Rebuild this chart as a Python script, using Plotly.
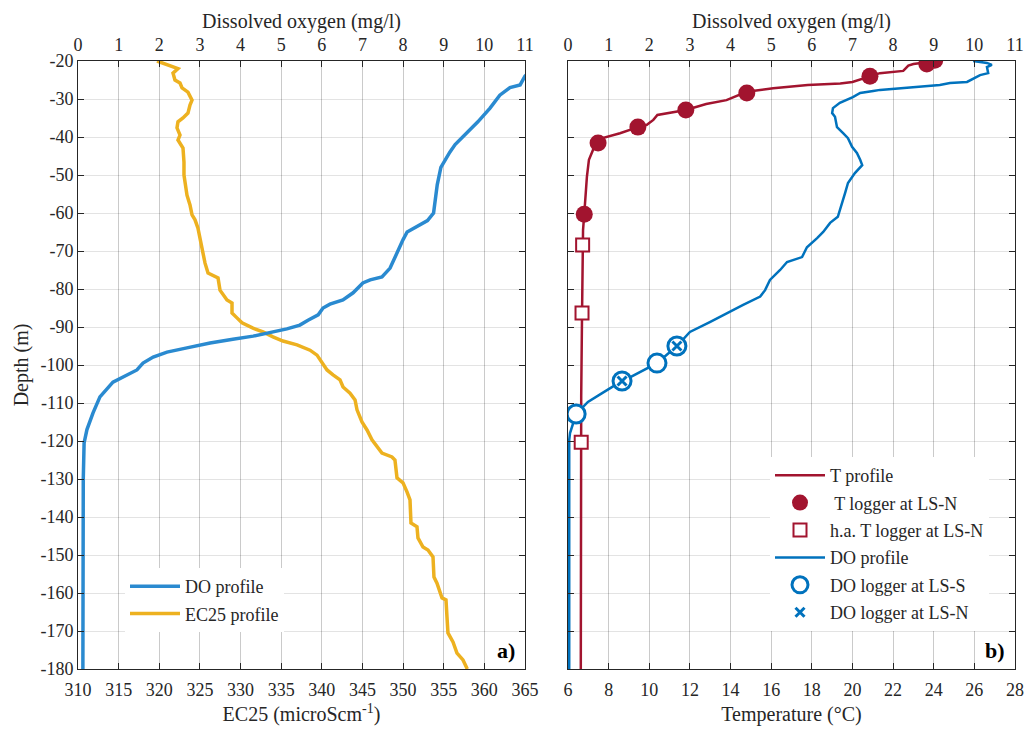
import plotly.graph_objects as go

# ---------------- Panel a) data ----------------
depth_do_a = [-22, -24, -26.3, -27, -29, -32.4, -36, -39.5, -42, -44, -48, -52.6, -56.6, -60, -62, -63.5,
              -65, -67, -69, -73, -74.5, -76.8, -77.6, -78.4, -81, -82.9, -84, -85, -86.8, -88.2,
              -89.5, -90.5, -91.3, -92.4, -93.2, -94.2, -95.5, -96.6, -97.9, -99.5, -101.3, -102.6,
              -104.5, -108.4, -112.6, -117, -120.5, -130, -150, -180]
do_a = [11.2, 11.0, 10.88, 10.63, 10.38, 10.14, 9.84, 9.52, 9.28, 9.15, 8.93, 8.84, 8.79, 8.75, 8.6, 8.35,
        8.1, 8.0, 7.92, 7.75, 7.68, 7.48, 7.19, 7.01, 6.77, 6.52, 6.2, 6.03, 5.91, 5.66,
        5.46, 5.14, 4.8, 4.31, 3.81, 3.25, 2.68, 2.19, 1.85, 1.6, 1.45, 1.2,
        0.86, 0.54, 0.37, 0.22, 0.15, 0.13, 0.12, 0.12]

depth_ec = [-20, -20.5, -21.6, -22, -23.2, -25, -25.8, -27.1, -28.2, -30.3, -31.6, -33.7, -35, -36,
            -37.6, -39.5, -40.8, -42.9, -46.6, -50, -55.3, -57.9, -60.5, -61.8, -64, -67.5,
            -70.5, -73.2, -75.8, -76.3, -77.1, -80.3, -82.9, -83.7, -86.3, -87.6, -88.9, -90.3,
            -91.3, -92.6, -93.7, -94.7, -96.1, -97.4, -99.5, -101.3, -102.6, -103.9, -105.8,
            -107.4, -109.2, -111.8, -115, -117.1, -119.7, -121.6, -123.2, -124.2, -125, -129.7,
            -131, -133.4, -135.5, -141.6, -142.6, -145.5, -147.9, -148.7, -150.5, -155.8, -157.4,
            -161.3, -161.8, -166.3, -170.5, -172.9, -175.8, -177.6, -180]
ec25 = [319.72, 320.34, 321.69, 322.30, 321.69, 321.93, 322.55, 322.80, 323.53, 324.03, 323.78, 323.53,
        322.92, 322.30, 322.18, 322.55, 322.30, 322.92, 323.04, 323.04, 323.41, 323.78, 324.03, 324.40,
        324.76, 325.05, 325.38, 325.63, 326.0, 326.49, 327.23, 327.47, 328.33, 328.95, 328.95, 329.56,
        330.18, 331.53, 332.76, 333.99, 335.22, 336.95, 338.55, 339.41, 340.14, 340.64, 341.38, 342.24,
        342.61, 343.47, 344.09, 344.33, 344.94, 345.56, 346.17, 346.79, 347.40, 348.63, 349.00, 349.25,
        349.99, 350.48, 350.85, 350.97, 351.71, 351.83, 352.45, 353.06, 353.68, 353.80, 354.17, 354.79,
        355.28, 355.40, 355.52, 356.14, 356.63, 357.37, 357.90]

# ---------------- Panel b) data ----------------
depth_t = [-20, -20.4, -20.8, -21.2, -22.6, -23.2, -24, -25.5, -25.9, -26.3, -27.2, -28.1, -30.3, -31.3,
           -32.9, -33.7, -34.2, -35.5, -36.8, -37.4, -39, -40.3, -41.6, -43.4, -46, -50.5, -55.8,
           -60.3, -64.5, -70, -87, -108, -180]
temp_t = [24.1, 23.5, 23.0, 22.75, 22.5, 21.35, 20.86, 20.0, 19.4, 17.8, 16.1, 14.8, 13.8, 12.8,
          11.8, 10.9, 10.4, 10.2, 9.88, 9.44, 8.56, 7.7, 7.48, 7.23, 7.03, 6.93, 6.84,
          6.8, 6.74, 6.72, 6.69, 6.65, 6.63]

tlog_depth = [-19.8, -20.8, -24, -28.4, -32.9, -37.4, -41.6, -60.3]
tlog_temp = [24.05, 23.66, 20.86, 14.8, 11.8, 9.44, 7.48, 6.8]

ha_depth = [-68.4, -86.3, -120.3]
ha_temp = [6.72, 6.69, 6.65]

depth_do_b = [-20, -20.5, -21, -21.6, -23.2, -23.7, -25.5, -25.8, -26.3, -26.8, -27.6, -27.9, -28.4,
              -29.5, -31, -32.4, -33.7, -34.7, -37.4, -39, -40.3, -42.6, -44.2, -46, -47.4, -49.5,
              -52.1, -54.7, -57.4, -61, -62.6, -65, -66.6, -69, -71.6, -72.9, -75, -77.6, -80.3,
              -82, -84.2, -86.3, -88.7, -91.3, -95, -99.5, -101.8, -104.2, -105.3, -107.4, -109.7,
              -112.9, -117.9, -119.7, -150, -180]
do_b = [9.97, 10.31, 10.43, 10.31, 10.34, 10.14, 9.82, 9.40, 9.15, 8.49, 7.68, 7.51, 7.19,
        7.01, 6.69, 6.52, 6.50, 6.57, 6.62, 6.77, 6.89, 6.99, 7.11, 7.19, 7.24, 7.06,
        6.89, 6.82, 6.74, 6.64, 6.45, 6.28, 6.13, 5.88, 5.76, 5.39, 5.22, 4.97, 4.85,
        4.73, 4.31, 3.91, 3.49, 3.00, 2.68, 2.19, 1.77, 1.33, 1.16, 0.84, 0.49,
        0.20, 0.05, 0.03, 0.03, 0.03]

dos_depth = [-95, -99.5, -104.2, -112.9]
dos_do = [2.68, 2.19, 1.33, 0.20]
don_depth = [-95, -104.2]
don_do = [2.68, 1.33]

depth_ticks = list(range(-180, -19, 10))
depth_ticktext = [str(v) for v in depth_ticks]

# ---------------- Styling ----------------
FONT = "'Liberation Serif', 'Times New Roman', Times, 'DejaVu Serif', serif"
AX = "#262626"
BLUE_A = "#2A8AD0"
BLUE_B = "#0072BD"
ORANGE = "#EDB120"
RED = "#A2142F"

W, H = 1027, 730
ML, MR, MT, MB = 78, 12, 61, 61
PW, PH = W - ML - MR, H - MT - MB

fig = go.Figure()

# panel a
fig.add_trace(go.Scatter(x=do_a, y=depth_do_a, xaxis="x2", yaxis="y", mode="lines",
                         line=dict(color=BLUE_A, width=3.5), name="DO profile",
                         legend="legend", legendgroup="a1"))
fig.add_trace(go.Scatter(x=ec25, y=depth_ec, xaxis="x", yaxis="y", mode="lines",
                         line=dict(color=ORANGE, width=3.5), name="EC25 profile",
                         legend="legend", legendgroup="a2"))

# panel b
fig.add_trace(go.Scatter(x=temp_t, y=depth_t, xaxis="x3", yaxis="y2", mode="lines",
                         line=dict(color=RED, width=2.5), name="T profile",
                         legend="legend2", legendgroup="b1"))
fig.add_trace(go.Scatter(x=tlog_temp, y=tlog_depth, xaxis="x3", yaxis="y2", mode="markers",
                         marker=dict(color=RED, size=17, symbol="circle"), name=" T logger at LS-N",
                         legend="legend2", legendgroup="b2"))
fig.add_trace(go.Scatter(x=ha_temp, y=ha_depth, xaxis="x3", yaxis="y2", mode="markers",
                         marker=dict(color="white", size=13, symbol="square",
                                     line=dict(color=RED, width=2)),
                         name="h.a. T logger at LS-N", legend="legend2", legendgroup="b3"))
fig.add_trace(go.Scatter(x=do_b, y=depth_do_b, xaxis="x4", yaxis="y2", mode="lines",
                         line=dict(color=BLUE_B, width=2.5), name="DO profile",
                         legend="legend2", legendgroup="b4"))
fig.add_trace(go.Scatter(x=dos_do, y=dos_depth, xaxis="x4", yaxis="y2", mode="markers",
                         marker=dict(color="white", size=18, symbol="circle",
                                     line=dict(color=BLUE_B, width=3)),
                         name="DO logger at LS-S", legend="legend2", legendgroup="b5"))
fig.add_trace(go.Scatter(x=don_do, y=don_depth, xaxis="x4", yaxis="y2", mode="markers",
                         marker=dict(color=BLUE_B, size=9, symbol="x-thin",
                                     line=dict(color=BLUE_B, width=3)),
                         name="DO logger at LS-N", legend="legend2", legendgroup="b6"))

common = dict(showline=True, linecolor=AX, linewidth=1, ticks="inside", ticklen=6,
              tickcolor=AX, tickwidth=1, automargin=False,
              tickfont=dict(family=FONT, size=18, color=AX),
              showgrid=True, gridcolor="rgba(0,0,0,0.11)", gridwidth=1, zeroline=False)
title_font = dict(family=FONT, size=20, color=AX)

xa_dom = [0, 447 / PW]
xb_dom = [490 / PW, 1]


def px_x(px):
    return (px - ML) / PW


def px_y(py):
    return 1 - (py - MT) / PH


fig.update_layout(
    width=W, height=H,
    margin=dict(l=ML, r=MR, t=MT, b=MB, autoexpand=False),
    plot_bgcolor="white", paper_bgcolor="white",
    font=dict(family=FONT, color=AX),
    xaxis=dict(common, domain=xa_dom, range=[310, 365], tick0=310, dtick=5, anchor="y",
               side="bottom", mirror=True, ticklabelstandoff=4,
               title=dict(text="EC25 (microScm<sup>-1</sup>)", font=title_font, standoff=8)),
    xaxis2=dict(common, range=[0, 11], tick0=0, dtick=1, anchor="y", overlaying="x",
                side="top", ticklabelstandoff=2,
                title=dict(text="Dissolved oxygen (mg/l)", font=title_font, standoff=0)),
    yaxis=dict(common, domain=[0, 1], range=[-180, -20], tickvals=depth_ticks,
               ticktext=depth_ticktext, anchor="x", mirror="ticks",
               title=dict(text="Depth (m)", font=title_font, standoff=6)),
    xaxis3=dict(common, domain=xb_dom, range=[6, 28], tick0=6, dtick=2, anchor="y2",
                side="bottom", mirror=True, ticklabelstandoff=4,
                title=dict(text="Temperature (°C)", font=title_font, standoff=8)),
    xaxis4=dict(common, range=[0, 11], tick0=0, dtick=1, anchor="y2", overlaying="x3",
                side="top", ticklabelstandoff=2,
                title=dict(text="Dissolved oxygen (mg/l)", font=title_font, standoff=0)),
    yaxis2=dict(common, domain=[0, 1], range=[-180, -20], tickvals=depth_ticks,
                showticklabels=False, anchor="x3", mirror="ticks"),
    legend=dict(x=px_x(125), y=px_y(568),
                xanchor="left", yanchor="top", bgcolor="white", borderwidth=0,
                font=dict(family=FONT, size=18, color=AX), itemwidth=50,
                tracegroupgap=1),
    legend2=dict(x=px_x(770), y=px_y(457),
                 xanchor="left", yanchor="top", bgcolor="white", borderwidth=0,
                 font=dict(family=FONT, size=18, color=AX), itemwidth=50,
                 tracegroupgap=1),
    annotations=[
        dict(text="<b>a)</b>", xref="x domain", yref="y domain", x=1, y=0,
             xanchor="right", yanchor="bottom", xshift=-8, yshift=4, showarrow=False,
             font=dict(family=FONT, size=22, color="black")),
        dict(text="<b>b)</b>", xref="x3 domain", yref="y2 domain", x=1, y=0,
             xanchor="right", yanchor="bottom", xshift=-8, yshift=4, showarrow=False,
             font=dict(family=FONT, size=22, color="black")),
    ],
)

fig.write_html("out.html")
